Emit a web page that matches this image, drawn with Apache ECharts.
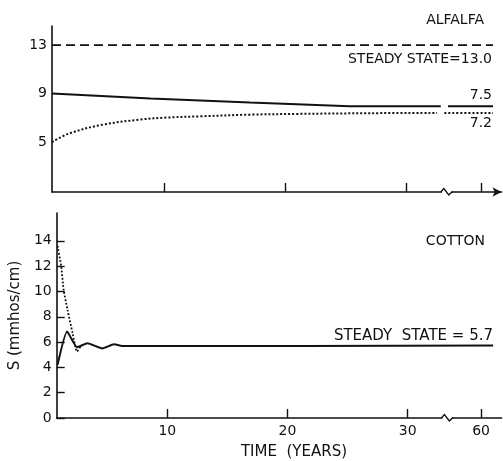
<!DOCTYPE html>
<html>
<head>
<meta charset="utf-8">
<script src="https://cdn.jsdelivr.net/npm/echarts@6/dist/echarts.min.js"></script>
<style>
  html, body { margin: 0; padding: 0; background: #fff; }
  #main { width: 503px; height: 461px; }
</style>
</head>
<body>
<div id="main"></div>
<script>
// time axis is broken between ~33 and ~57 years
const BREAK_AT = 33.3;
const RESUME_AT = 57.2;

// ALFALFA panel (years, S in mmhos/cm); null = gap in the drawn line
const ALF_STEADY_YEARS = [0.8, 61];
const ALF_STEADY_S = [13.0, 13.0];
const ALF_SOLID_YEARS = [0.8, 8.9, 17.1, 25.3, 32.8, 33.0, 57.3, 61];
const ALF_SOLID_S = [9.0, 8.6, 8.27, 7.95, 7.95, null, 7.95, 7.95];
const ALF_DOTTED_YEARS = [0.8, 2.2, 4.8, 8.0, 10.3, 13, 17.1, 21, 27, 32.5, 32.8, 33.1, 61];
const ALF_DOTTED_S = [5.0, 5.7, 6.4, 6.85, 7.02, 7.12, 7.26, 7.32, 7.38, 7.4, null, 7.4, 7.4];

// COTTON panel
const COT_SOLID_YEARS = [0.87, 1.66, 2.49, 3.36, 4.6, 5.55, 6.38, 61];
const COT_SOLID_S = [4.2, 6.83, 5.6, 5.9, 5.5, 5.83, 5.68, 5.72];
const COT_DOTTED_YEARS = [0.87, 1.17, 1.38, 1.71, 2.12, 2.49, 2.81];
const COT_DOTTED_S = [13.6, 12.0, 10.1, 8.5, 6.7, 5.25, 5.7];

const TIME_TICKS = [10, 20, 30, 60];
const ALF_S_TICKS = [5, 9, 13];
const COT_S_TICKS = [0, 2, 4, 6, 8, 10, 12, 14];

const INK = '#111';
const FONT = 'DejaVu Sans';

function toAxis(year) {
    return year <= BREAK_AT ? year : BREAK_AT + (year - RESUME_AT);
}
function fromAxis(v) {
    return v <= BREAK_AT + 0.01 ? v : v - BREAK_AT + RESUME_AT;
}
function pairs(years, vals) {
    return years.map((y, i) => [toAxis(y), vals[i] === null ? '-' : vals[i]]);
}

function lineSeries(idx, data, type, width, smooth) {
    return {
        type: 'line',
        xAxisIndex: idx,
        yAxisIndex: idx,
        data: data,
        showSymbol: false,
        smooth: smooth || false,
        connectNulls: false,
        lineStyle: { color: INK, width: width, type: type },
        silent: true
    };
}

const xMin = 0.8, xMax = 37.8;

function timeAxis(idx, withLabels) {
    return {
        type: 'value',
        gridIndex: idx,
        min: xMin,
        max: xMax,
        axisLine: {
            lineStyle: { color: INK, width: 1.6 },
            symbol: idx === 0 ? ['none', 'arrow'] : ['none', 'none'],
            symbolSize: [7, 9]
        },
        axisTick: {
            show: true, inside: true, length: 9,
            customValues: TIME_TICKS.map(toAxis),
            lineStyle: { color: INK, width: 1.4 }
        },
        axisLabel: {
            show: withLabels,
            customValues: TIME_TICKS.map(toAxis),
            formatter: v => String(Math.round(fromAxis(v))),
            color: INK, fontFamily: FONT, fontSize: 14, margin: 6
        },
        splitLine: { show: false }
    };
}

const option = {
    backgroundColor: '#fff',
    animation: false,
    grid: [
        { left: 52, top: 26, width: 449.5, height: 166 },
        { left: 53, top: 213, width: 448.5, height: 205 }
    ],
    xAxis: [timeAxis(0, false), timeAxis(1, true)],
    yAxis: [{
        type: 'value',
        gridIndex: 0,
        min: 0.88,
        max: 14.57,
        axisLine: { show: true, lineStyle: { color: INK, width: 1.6 } },
        axisTick: { show: false },
        axisLabel: {
            customValues: ALF_S_TICKS,
            color: INK, fontFamily: FONT, fontSize: 14, margin: 5
        },
        splitLine: { show: false }
    }, {
        type: 'value',
        gridIndex: 1,
        min: 0,
        max: 16.2,
        name: 'S (mmhos/cm)',
        nameLocation: 'middle',
        nameGap: 29,
        nameTextStyle: { color: INK, fontFamily: FONT, fontSize: 15 },
        axisLine: { show: true, lineStyle: { color: INK, width: 1.6 } },
        axisTick: {
            show: true, inside: true, length: 8,
            customValues: COT_S_TICKS,
            lineStyle: { color: INK, width: 1.4 }
        },
        axisLabel: {
            customValues: COT_S_TICKS,
            color: INK, fontFamily: FONT, fontSize: 14, margin: 5
        },
        splitLine: { show: false }
    }],
    series: [
        lineSeries(0, pairs(ALF_STEADY_YEARS, ALF_STEADY_S), [9, 5], 1.8),
        lineSeries(0, pairs(ALF_SOLID_YEARS, ALF_SOLID_S), 'solid', 2),
        lineSeries(0, pairs(ALF_DOTTED_YEARS, ALF_DOTTED_S), [2, 2], 2, 0.35),
        lineSeries(1, pairs(COT_SOLID_YEARS, COT_SOLID_S), 'solid', 2, 0.15),
        lineSeries(1, pairs(COT_DOTTED_YEARS, COT_DOTTED_S), [1.8, 1.8], 1.8, 0.2)
    ]
};

const chart = echarts.init(document.getElementById('main'));
chart.setOption(option);

function text(str, x, y, align, size) {
    return {
        type: 'text', z: 100,
        style: {
            text: str, x: x, y: y, align: align, verticalAlign: 'middle',
            fill: INK, font: size + 'px "' + FONT + '"'
        }
    };
}

// axis break marks on both time axes
const graphics = [];
[[0, 0.88], [1, 0]].forEach(([g, yv]) => {
    const p = chart.convertToPixel({ gridIndex: g }, [BREAK_AT, yv]);
    const cx = p[0], cy = p[1];
    graphics.push({
        type: 'rect', z: 100,
        shape: { x: cx - 5, y: cy - 2, width: 10, height: 4 },
        style: { fill: '#fff' }
    });
    graphics.push({
        type: 'polyline', z: 101,
        shape: { points: [[cx - 6, cy], [cx - 3, cy - 3.5], [cx + 2, cy + 3], [cx + 5, cy], [cx + 6, cy]] },
        style: { stroke: INK, lineWidth: 1.4, fill: null }
    });
});

graphics.push(
    text('ALFALFA', 484, 20.5, 'right', 14),
    text('STEADY STATE=13.0', 492, 59, 'right', 14),
    text('7.5', 492, 95, 'right', 14),
    text('7.2', 492, 123.5, 'right', 14),
    text('COTTON', 485, 241, 'right', 14),
    text('STEADY  STATE = 5.7', 493, 336.5, 'right', 15),
    text('TIME  (YEARS)', 294, 452, 'center', 15)
);

chart.setOption({ graphic: graphics });
</script>
</body>
</html>
